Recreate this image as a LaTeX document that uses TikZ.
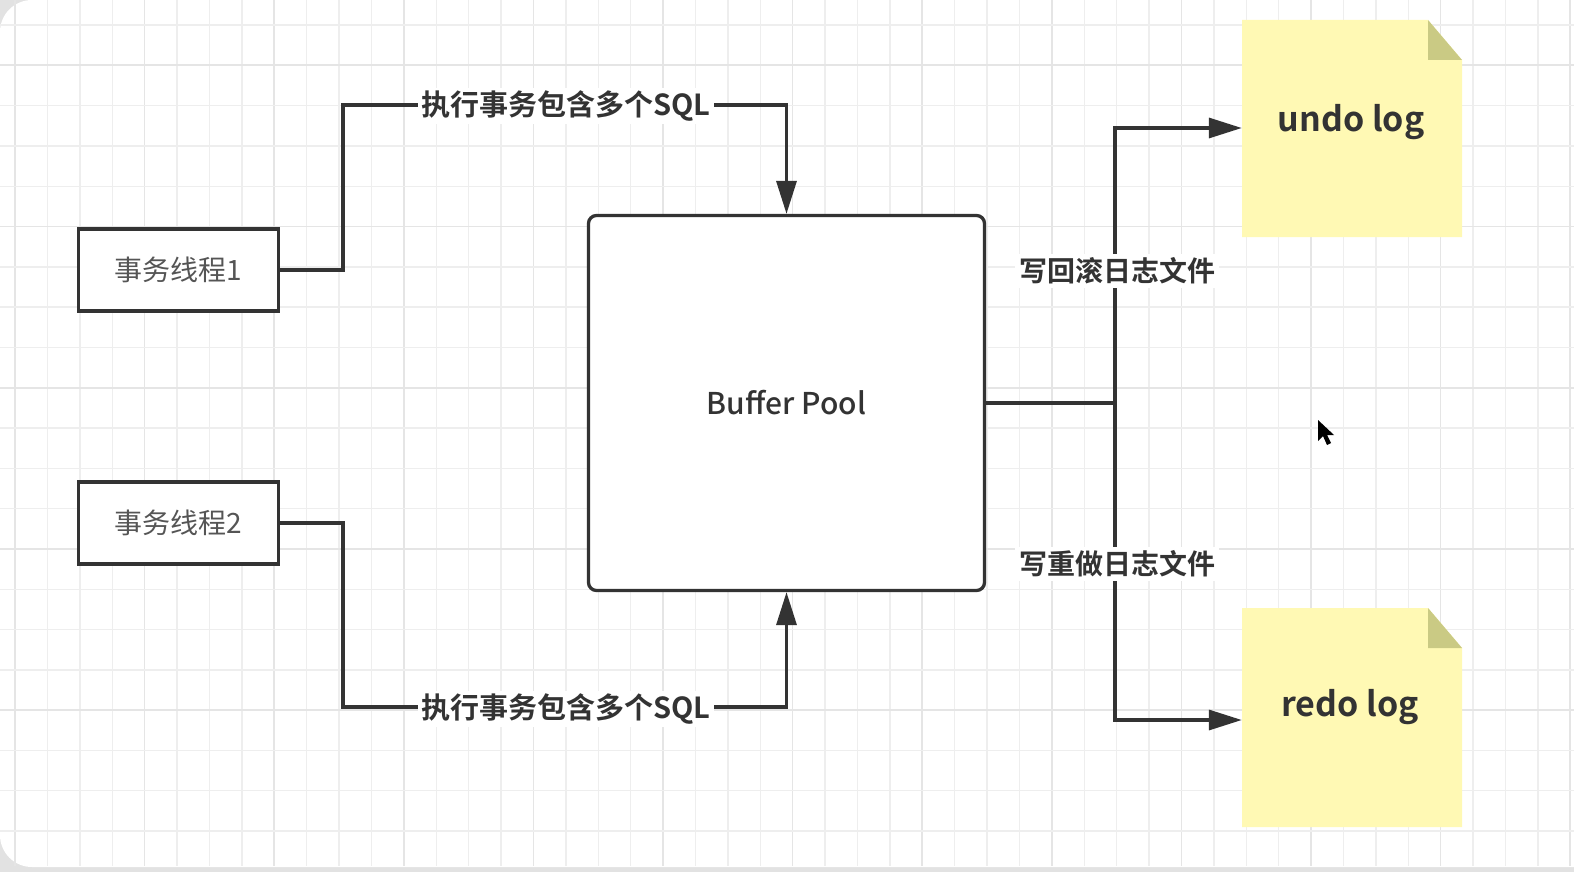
\documentclass[tikz,border=0pt]{standalone}
\usepackage{fontspec}
\setmainfont{Noto Sans CJK SC}[BoldFont=* Bold]
\newfontfamily\medfont{Noto Sans CJK SC Medium}
\usetikzlibrary{arrows.meta}
\definecolor{ink}{HTML}{333333}
\definecolor{thtext}{HTML}{555555}
\definecolor{gridminor}{HTML}{EEEEEE}
\definecolor{gridmajor}{HTML}{E5E5E5}
\definecolor{notefill}{HTML}{FFF9B4}
\definecolor{notefold}{HTML}{CACA84}
\definecolor{outside}{HTML}{E2E2E2}
\tikzset{
  thread/.style={draw=ink, line width=3.3pt, fill=white, minimum width=200pt, minimum height=82pt, inner sep=0pt, text=thtext, font=\fontsize{28pt}{30pt}\selectfont},
  poolbox/.style={draw=ink, line width=3.3pt, fill=white, rounded corners=8pt, minimum width=396pt, minimum height=375pt, inner sep=0pt, text=ink, font=\medfont\fontsize{30pt}{32pt}\selectfont},
  notebox/.style={minimum width=220pt, inner sep=0pt},
  notetext/.style={text=ink, font=\bfseries\fontsize{34pt}{36pt}\selectfont},
  conn/.style={draw=ink, line width=3.3pt, -{Triangle[length=33pt, width=20pt]}},
  plainline/.style={draw=ink, line width=3.3pt},
  lbl/.style={fill=white, inner sep=3pt, text=ink, font=\bfseries\fontsize{29pt}{31pt}\selectfont},
  vlbl/.style={fill=white, inner sep=4pt, text=ink, font=\bfseries\fontsize{28pt}{30pt}\selectfont},
}
\begin{document}
\begin{tikzpicture}[x=1pt, y=-1pt]
\useasboundingbox (0,0) rectangle (1574,872);
% background panel
\fill[outside] (0,0) rectangle (1574,872);
\begin{scope}
\clip (0,0) rectangle (1574,872);
\fill[white, rounded corners=32pt] (0,0) rectangle (1620,867);
\end{scope}
% grid
\foreach \k in {0,...,48} {
  \pgfmathsetmacro{\gx}{15+32.4*\k}
  \pgfmathtruncatemacro{\m}{mod(\k,4)}
  \ifnum\m=0
    \draw[gridmajor, line width=1.6pt] (\gx,0) -- (\gx,866);
  \else
    \draw[gridminor, line width=1.4pt] (\gx,0) -- (\gx,866);
  \fi
}
\foreach \k in {0,...,20} {
  \pgfmathsetmacro{\gy}{25+40.3*\k}
  \pgfmathtruncatemacro{\m}{mod(\k,4)}
  \ifnum\m=1
    \draw[gridmajor, line width=1.6pt] (0,\gy) -- (1574,\gy);
  \else
    \draw[gridminor, line width=1.4pt] (0,\gy) -- (1574,\gy);
  \fi
}
% nodes
\node[thread] (t1) at (178.5,270) {事务线程1};
\node[thread] (t2) at (178.5,523) {事务线程2};
\node[poolbox] (bp) at (786.5,403) {Buffer Pool};
% notes
\fill[notefill] (1242,20) -- (1428,20) -- (1462,60) -- (1462,237) -- (1242,237) -- cycle;
\fill[notefold] (1428,20) -- (1462,60) -- (1428,60) -- cycle;
\node[notebox, minimum height=217pt] (undo) at (1352,128.5) {};
\node[notetext] (undot) at (1351,122) {undo log};
\fill[notefill] (1242,608) -- (1428,608) -- (1462,648) -- (1462,827) -- (1242,827) -- cycle;
\fill[notefold] (1428,608) -- (1462,648) -- (1428,648) -- cycle;
\node[notebox, minimum height=219pt] (redo) at (1352,717.5) {};
\node[notetext] (redot) at (1350,707) {redo log};
% connector coordinates
\coordinate (c1) at (343,105);
\coordinate (c2) at (343,707);
\coordinate (j) at (1115,403);
% connectors
\draw[conn] (t1.east) -| (c1) -| (bp.north);
\draw[conn] (t2.east) -| (c2) -| (bp.south);
\draw[plainline] (bp.east) -- (j);
\draw[conn] (j) |- ([yshift=0.5pt]undo.west);
\draw[conn] (j) |- ([yshift=-2.5pt]redo.west);
% labels
\node[lbl] (l1) at (566,106) {执行事务包含多个SQL};
\node[lbl] (l2) at (566,709) {执行事务包含多个SQL};
\node[vlbl] (l3) at (1117,271) {写回滚日志文件};
\node[vlbl] (l4) at (1117,564) {写重做日志文件};
% mouse cursor
\fill[black] (1318,420) -- (1318,441) -- (1323,436) -- (1327,445) -- (1331,443) -- (1327,435) -- (1334,435) -- cycle;
\end{tikzpicture}
\end{document}
